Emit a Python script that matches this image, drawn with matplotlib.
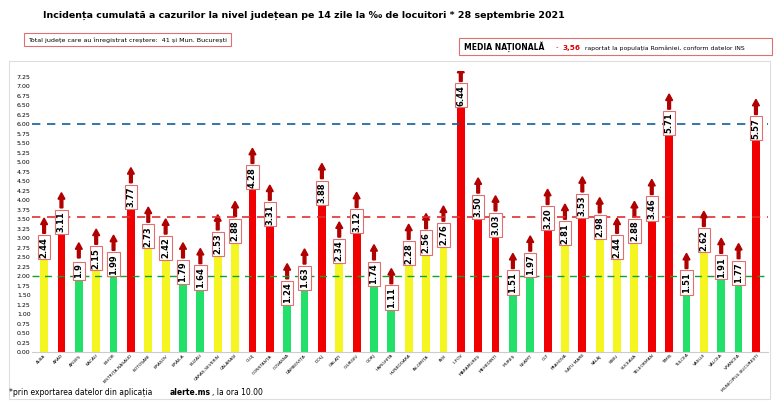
import matplotlib.pyplot as plt
from matplotlib.patches import Rectangle, FancyArrow

judete = ["ALBA", "ARAD", "ARGEȘ", "BACĂU", "BIHOR", "BISTRIȚA-NĂSĂUD", "BOTOȘANI", "BRAȘOV",
          "BRĂILA", "BUZĂU", "CARAȘ-SEVERIN", "CĂLĂRAȘI", "CLUJ", "CONSTANȚA", "COVASNA",
          "DÂMBOVIȚA", "DOLJ", "GALAȚI", "GIURGIU", "GORJ", "HARGHITA", "HUNEDOARA",
          "IALOMIȚA", "IAȘI", "ILFOV", "MARAMUREȘ", "MEHEDINȚI", "MUREȘ", "NEAMȚ", "OLT",
          "PRAHOVA", "SATU MARE", "SĂLAJ", "SIBIU", "SUCEAVA", "TELEORMAN", "TIMIȘ",
          "TULCEA", "VASLUI", "VÂLCEA", "VRANCEA", "MUNICIPIUL BUCUREȘTI"]
valori = [2.44, 3.11, 1.9, 2.15, 1.99, 3.77, 2.73, 2.42, 1.79, 1.64, 2.53, 2.88, 4.28, 3.31,
          1.24, 1.63, 3.88, 2.34, 3.12, 1.74, 1.11, 2.28, 2.56, 2.76, 6.44, 3.50, 3.03, 1.51,
          1.97, 3.20, 2.81, 3.53, 2.98, 2.44, 2.88, 3.46, 5.71, 1.51, 2.62, 1.91, 1.77, 5.57]
etichete = ["2.44", "3.11", "1.9", "2.15", "1.99", "3.77", "2.73", "2.42", "1.79", "1.64",
            "2.53", "2.88", "4.28", "3.31", "1.24", "1.63", "3.88", "2.34", "3.12", "1.74",
            "1.11", "2.28", "2.56", "2.76", "6.44", "3.50", "3.03", "1.51", "1.97", "3.20",
            "2.81", "3.53", "2.98", "2.44", "2.88", "3.46", "5.71", "1.51", "2.62", "1.91",
            "1.77", "5.57"]
media = 3.56
prag_verde = 2.0
prag_albastru = 6.0


def culoare(v):
    if v < 2:
        return "#22e06a"
    if v <= 3:
        return "#f5f522"
    return "#f00000"


fig = plt.figure(figsize=(7.79, 4.07), dpi=100)
fig.patches.append(Rectangle((0.012, 0.02), 0.976, 0.83, transform=fig.transFigure,
                             fill=False, edgecolor="#dddddd", lw=0.8))
ax = fig.add_axes([0.041, 0.135, 0.945, 0.69])
x = list(range(len(judete)))
ax.bar(x, valori, width=0.45, color=[culoare(v) for v in valori])
ax.axhline(media, color="#e03030", ls=(0, (5, 4)), lw=1.2)
ax.axhline(prag_verde, color="#10a030", ls=(0, (5, 4)), lw=1.0)
ax.axhline(prag_albastru, color="#1060a0", ls=(0, (5, 4)), lw=1.2)

for i, (v, t) in enumerate(zip(valori, etichete)):
    ax.text(i, v + 0.05, t, rotation=90, ha="center", va="bottom", fontsize=6,
            fontweight="bold",
            bbox=dict(boxstyle="square,pad=0.2", fc="white", ec="#e07070", lw=0.8))
    ytop = v + 0.05 + 0.11 * len(t) + 0.2
    ax.add_patch(FancyArrow(i, ytop, 0, 0.4, width=0.16, head_width=0.4,
                            head_length=0.17, color="#b00000", length_includes_head=True))

ax.set_xlim(-0.7, len(judete) - 0.3)
ax.set_ylim(0, 7.4)
ax.set_yticks([k * 0.25 for k in range(30)])
ax.set_yticklabels([f"{k * 0.25:.2f}" for k in range(30)], fontsize=4.5)
ax.set_xticks(x)
ax.set_xticklabels(judete, rotation=45, ha="right", fontsize=3.2, rotation_mode="anchor")
ax.tick_params(length=0, pad=1)
for s in ["top", "right", "left"]:
    ax.spines[s].set_visible(False)
ax.spines["bottom"].set_color("#cccccc")

fig.text(0.055, 0.955, "Incidența cumulată a cazurilor la nivel județean pe 14 zile la ‰ de locuitori * 28 septembrie 2021",
         ha="left", fontsize=6.8, fontweight="bold")
fig.text(0.036, 0.898, "Total județe care au înregistrat creștere:  41 și Mun. București", fontsize=4.6,
         bbox=dict(boxstyle="square,pad=0.6", fc="white", ec="#e07070", lw=0.8))
fig.patches.append(Rectangle((0.589, 0.865), 0.402, 0.042, transform=fig.transFigure,
                             fill=False, edgecolor="#e07070", lw=0.8))
fig.text(0.596, 0.878, "MEDIA NAȚIONALĂ", fontsize=5.5, fontweight="bold")
fig.text(0.713, 0.878, "-", fontsize=5, color="#e00000")
fig.text(0.722, 0.878, "3,56", fontsize=5.2, color="#e00000", fontweight="bold")
fig.text(0.751, 0.878, "raportat la populația României, conform datelor INS", fontsize=4.4)
fig.text(0.012, 0.03, "*prin exportarea datelor din aplicația", fontsize=5.5)
fig.text(0.218, 0.03, "alerte.ms", fontsize=5.5, fontweight="bold")
fig.text(0.272, 0.03, ", la ora 10.00", fontsize=5.5)

fig.savefig("out.png", dpi=100)
